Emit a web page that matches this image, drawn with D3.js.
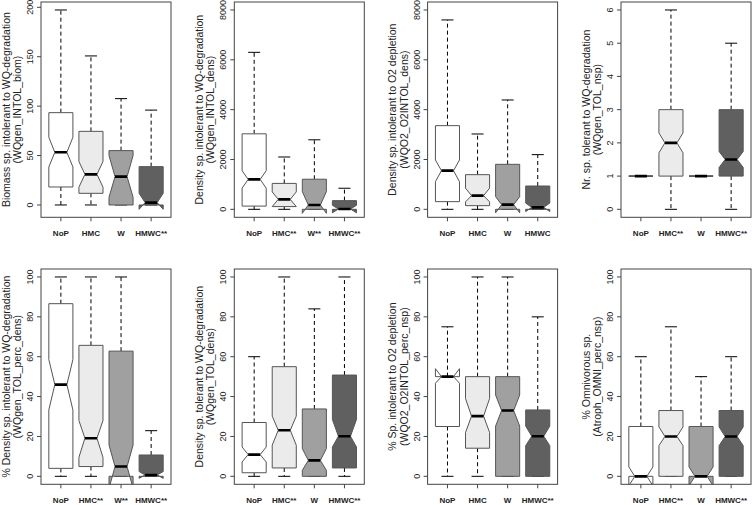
<!DOCTYPE html>
<html>
<head>
<meta charset="utf-8">
<script src="https://cdn.jsdelivr.net/npm/d3@7"></script>
<style>
  body { margin: 0; background: #fff; }
  svg { display: block; font-family: "Liberation Sans", Arial, sans-serif; }
</style>
</head>
<body>
<div id="chart"></div>
<script>
// Box statistics per group: [whisker low, Q1, median, Q3, whisker high]
// Notches: [conf low, conf high]
const biomIntol = [[0, 18.2, 53.3, 93.4, 197.3], [0, 11.8, 31, 74.5, 150.8], [0, 0, 28.7, 55, 107.6], [0, 0, 2.4, 38.8, 96]];
const biomIntolNotch = [[38.5, 68.5], [18, 44], [7.8, 50], [-4.4, 11.8]];

const densIntol = [[0, 130, 1200, 3030, 6300], [0, 110, 400, 1040, 2100], [0, 0, 174, 1208, 2790], [0, 0, 13, 349, 846]];
const densIntolNotch = [[850, 1550], [110, 700], [-160, 711], [-140, 160]];

const densO2Intol = [[0, 308, 1552, 3358, 7600], [0, 147, 548, 1391, 3023], [0, 0, 187, 1806, 4388], [0, 0, 80, 936, 2194]];
const densO2IntolNotch = [[1110, 1980], [300, 850], [-140, 508], [-90, 250]];

const nspTol = [[1, 1, 1, 1, 1], [0, 1, 2, 3, 6], [1, 1, 1, 1, 1], [0, 1, 1.5, 3, 5]];
const nspTolNotch = [[1, 1], [1.7, 2.3], [1, 1], [1.26, 1.74]];

const percDensIntol = [[0, 4, 46, 86.6, 100], [0, 4.9, 19.1, 65.7, 100], [0, 0, 4.9, 62.8, 100], [0, 0, 0.7, 10.7, 22.9]];
const percDensIntolNotch = [[33.3, 58.6], [9.5, 28], [-6, 15.7], [-1, 2.4]];

const densTol = [[0, 1.8, 10.9, 27, 60], [0, 4.2, 23.1, 55, 100], [0, 0, 8, 33.8, 84], [0, 4.2, 20.1, 50.8, 100]];
const densTolNotch = [[7.2, 14.7], [15.6, 30.2], [3, 13.9], [14.7, 28.5]];

const percO2Intol = [[0, 25, 50, 50, 75], [0, 14.1, 30.2, 50, 100], [0, 0, 33, 50, 100], [0, 0, 20.1, 33.3, 80]];
const percO2IntolNotch = [[46.7, 54], [22, 39], [25.2, 40.8], [15.4, 25.2]];

const percOmni = [[0, 0, 0, 25, 60], [0, 0, 20, 33, 75], [0, 0, 0, 25, 50], [0, 0, 20, 33, 60]];
const percOmniNotch = [[-4.7, 4.7], [15.4, 24.8], [-4.7, 4.7], [15.4, 24.8]];

const yTitles = [
  ["Biomass sp. intolerant to WQ-degradation", "(WQgen_INTOL_biom)"],
  ["Density sp. intolerant to WQ-degradation", "(WQgen_INTOL_dens)"],
  ["Density sp. intolerant to O2 depletion", "(WQO2_O2INTOL_dens)"],
  ["Nr. sp. tolerant to WQ-degradation", "(WQgen_TOL_nsp)"],
  ["% Density sp. intolerant to WQ-degradation", "(WQgen_TOL_perc_dens)"],
  ["Density sp. tolerant to WQ-degradation", "(WQgen_TOL_dens)"],
  ["% Sp. intolerant to O2 depletion", "(WQO2_O2INTOL_perc_nsp)"],
  ["% Omnivorous sp.", "(Atroph_OMNI_perc_nsp)"]
];

const xLabels = [
  ["NoP", "HMC", "W", "HMWC**"],
  ["NoP", "HMC**", "W**", "HMWC**"],
  ["NoP", "HMC", "W", "HMWC"],
  ["NoP", "HMC**", "W", "HMWC**"],
  ["NoP", "HMC**", "W**", "HMWC**"],
  ["NoP", "HMC**", "W", "HMWC**"],
  ["NoP", "HMC", "W", "HMWC**"],
  ["NoP", "HMC**", "W", "HMWC**"]
];

const yTicks = [
  [0, 50, 100, 150, 200],
  [0, 2000, 4000, 6000, 8000],
  [0, 2000, 4000, 6000, 8000],
  [0, 1, 2, 3, 4, 5, 6],
  [0, 20, 40, 60, 80, 100],
  [0, 20, 40, 60, 80, 100],
  [0, 20, 40, 60, 80, 100],
  [0, 20, 40, 60, 80, 100]
];

// null = limits taken from the data (like R's boxplot)
const yLimits = [null, [0, 8000], [0, 8000], null, [0, 100], [0, 100], [0, 100], [0, 100]];

const panelStats = [biomIntol, densIntol, densO2Intol, nspTol, percDensIntol, densTol, percO2Intol, percOmni];
const panelNotches = [biomIntolNotch, densIntolNotch, densO2IntolNotch, nspTolNotch, percDensIntolNotch, densTolNotch, percO2IntolNotch, percOmniNotch];

const boxFills = ["#ffffff", "#ebebeb", "#a0a0a0", "#606060"];

const W = 752, H = 505;
const plotW = 130, plotH = 215.3;
const colLeft = [41, 234.3, 427.6, 621];
const rowTop = [2, 269];

const svg = d3.select("#chart").append("svg").attr("width", W).attr("height", H);

panelStats.forEach((stats, p) => {
  const notches = panelNotches[p];
  const x0 = colLeft[p % 4];
  const y0 = rowTop[Math.floor(p / 4)];

  let lim = yLimits[p];
  if (!lim) lim = d3.extent(stats.flat().concat(notches.flat()));
  const pad = (lim[1] - lim[0]) * 0.04;

  const x = d3.scaleLinear().domain([0.5 - 0.16, 4.5 + 0.16]).range([x0, x0 + plotW]);
  const y = d3.scaleLinear().domain([lim[0] - pad, lim[1] + pad]).range([y0 + plotH, y0]);
  const unit = x(2) - x(1);
  const half = unit * 0.8 / 2;

  const g = svg.append("g");

  const clipId = "clip" + p;
  g.append("clipPath").attr("id", clipId)
    .append("rect").attr("x", x0).attr("y", y0).attr("width", plotW).attr("height", plotH);

  const plot = g.append("g").attr("clip-path", `url(#${clipId})`);

  stats.forEach((s, i) => {
    const cx = x(i + 1);
    const [lo, q1, med, q3, hi] = s;
    const [cl, ch] = notches[i];

    // whiskers
    plot.append("line")
      .attr("x1", cx).attr("x2", cx).attr("y1", y(q3)).attr("y2", y(hi))
      .attr("stroke", "#000").attr("stroke-dasharray", "4,3");
    plot.append("line")
      .attr("x1", cx).attr("x2", cx).attr("y1", y(q1)).attr("y2", y(lo))
      .attr("stroke", "#000").attr("stroke-dasharray", "4,3");
    // caps
    [lo, hi].forEach((v) => {
      plot.append("line")
        .attr("x1", cx - half / 2).attr("x2", cx + half / 2)
        .attr("y1", y(v)).attr("y2", y(v))
        .attr("stroke", "#000");
    });

    // notched box
    const pts = [
      [cx - half, y(q1)], [cx + half, y(q1)], [cx + half, y(cl)], [cx + half / 2, y(med)],
      [cx + half, y(ch)], [cx + half, y(q3)], [cx - half, y(q3)], [cx - half, y(ch)],
      [cx - half / 2, y(med)], [cx - half, y(cl)]
    ];
    plot.append("polygon")
      .attr("points", pts.map((d) => d.join(",")).join(" "))
      .attr("fill", boxFills[i])
      .attr("stroke", "#555")
      .attr("stroke-width", 1);

    // median
    plot.append("line")
      .attr("x1", cx - half / 2).attr("x2", cx + half / 2)
      .attr("y1", y(med)).attr("y2", y(med))
      .attr("stroke", "#000").attr("stroke-width", 2.6);
  });

  // frame
  g.append("rect")
    .attr("x", x0).attr("y", y0).attr("width", plotW).attr("height", plotH)
    .attr("fill", "none").attr("stroke", "#444");

  // y axis
  const yAxis = g.append("g").attr("transform", `translate(${x0},0)`);
  yTicks[p].forEach((t) => {
    yAxis.append("line").attr("x1", 0).attr("x2", -4).attr("y1", y(t)).attr("y2", y(t)).attr("stroke", "#444");
    yAxis.append("text")
      .attr("transform", `translate(-11,${y(t)}) rotate(-90)`)
      .attr("text-anchor", "middle")
      .attr("dominant-baseline", "central")
      .attr("font-size", "9px")
      .attr("fill", "#222")
      .text(t);
  });

  // x axis
  xLabels[p].forEach((lab, i) => {
    const cx = x(i + 1);
    g.append("line").attr("x1", cx).attr("x2", cx).attr("y1", y0 + plotH).attr("y2", y0 + plotH + 4).attr("stroke", "#444");
    g.append("text")
      .attr("x", cx).attr("y", y0 + plotH + 19)
      .attr("text-anchor", "middle")
      .attr("font-size", "8px")
      .attr("font-weight", "bold")
      .attr("fill", "#222")
      .text(lab);
  });

  // y title (two lines)
  const midY = y0 + plotH / 2;
  yTitles[p].forEach((line, k) => {
    g.append("text")
      .attr("transform", `translate(${x0 - 35.5 + k * 11.5},${midY}) rotate(-90)`)
      .attr("text-anchor", "middle")
      .attr("dominant-baseline", "central")
      .attr("font-size", "10.5px")
      .attr("fill", "#222")
      .text(line);
  });
});
</script>
</body>
</html>
